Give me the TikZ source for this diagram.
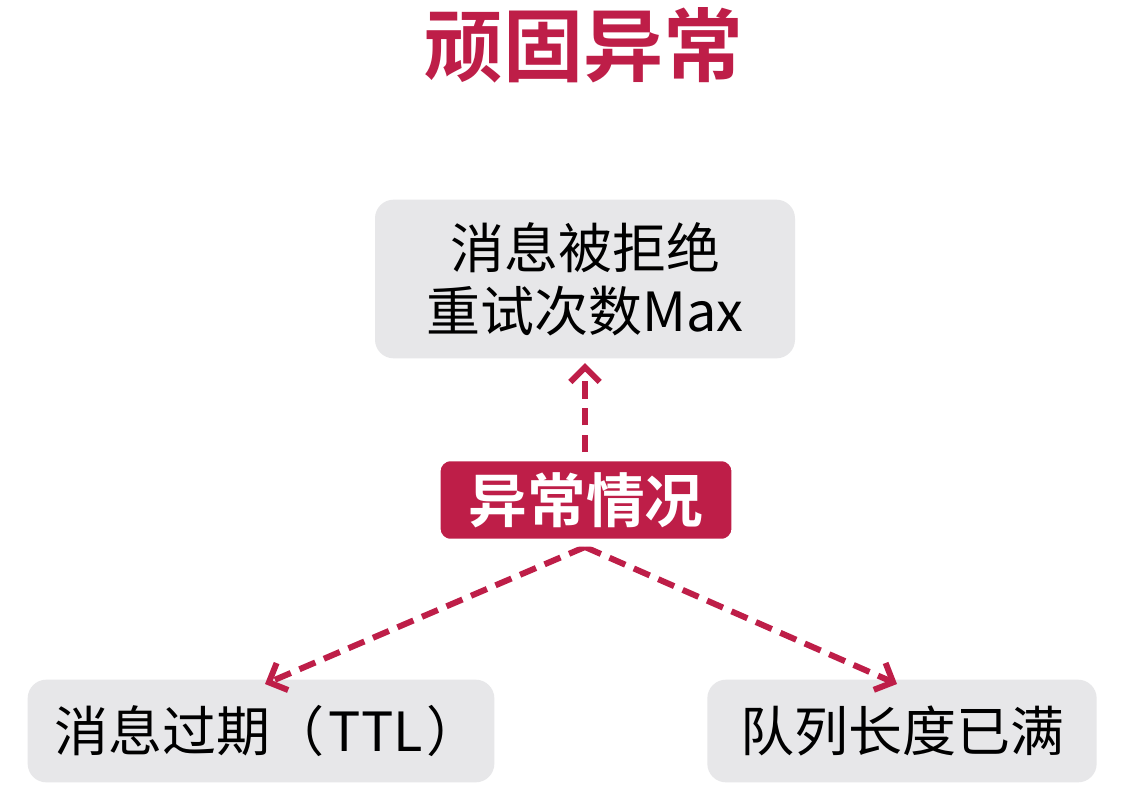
\documentclass[tikz,border=0pt]{standalone}
\usepackage{fontspec}
\setmainfont{Noto Sans CJK SC}
\newfontfamily\cjkb{Noto Sans CJK SC Bold}
\usetikzlibrary{arrows.meta,shadows}
\definecolor{crim}{HTML}{BE1E48}
\definecolor{boxgray}{HTML}{E7E7E9}
\tikzset{
  graybox/.style={fill=boxgray, rounded corners=14pt, inner sep=0pt, text=black, align=center, font=\fontsize{40.5}{47}\selectfont},
  redbox/.style={fill=crim, draw=white, line width=6pt, rounded corners=10pt, text=white, font=\cjkb\fontsize{44}{50}\selectfont, drop shadow={shadow xshift=0pt, shadow yshift=-2pt, fill=black!35, opacity=0.5}},
  conn/.style={crim, line width=4.5pt, dash pattern=on 13pt off 7pt, -{Straight Barb[length=11pt,width=22pt,line width=4.5pt]}}
}
\begin{document}
\begin{tikzpicture}[x=0.75pt,y=-0.75pt]
\useasboundingbox (0,0) rectangle (1125,801);
\fill[white] (0,0) rectangle (1125,801);
\node[text=crim, font=\cjkb\fontsize{60}{64}\selectfont] (title) at (583,45) {顽固异常};
\node[graybox, minimum width=315pt, minimum height=119pt] (top) at (585,279) {消息被拒绝\\重试次数Max};
\node[graybox, minimum width=350pt, minimum height=77pt] (ttl) at (261,731) {\hspace*{10pt}消息过期（\hspace{3pt}TTL\hspace{3pt}）};
\node[graybox, minimum width=292pt, minimum height=77pt] (full) at (902,731) {队列长度已满};
\coordinate (apex) at (585,547);
\coordinate (ltip) at (265,684);
\coordinate (rtip) at (897,684);
\coordinate (utip) at (585,363);
\draw[conn] (apex) -- (ltip);
\draw[conn] (apex) -- (rtip);
\draw[conn] (585,452) -- (utip);
\node[redbox, minimum width=224pt, minimum height=64pt] (mid) at (586,500) {异常情况};
\end{tikzpicture}
\end{document}
